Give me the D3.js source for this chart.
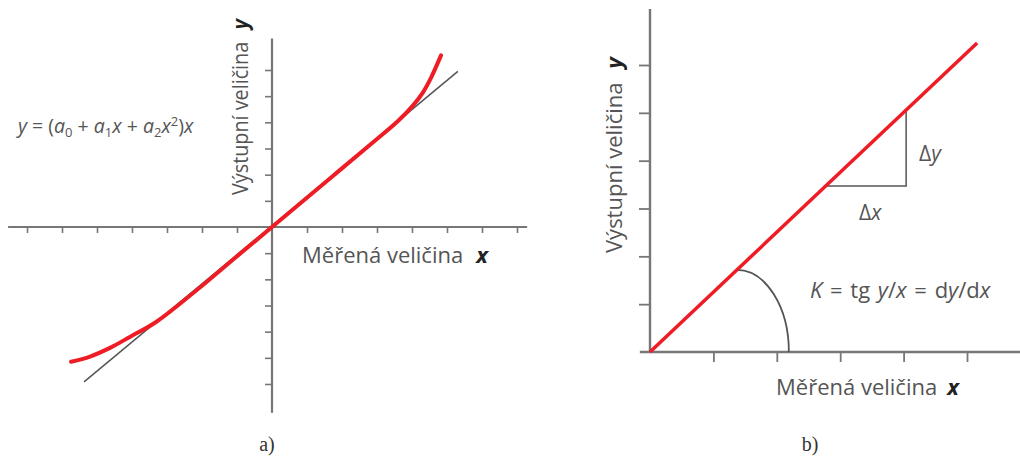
<!DOCTYPE html>
<html>
<head>
<meta charset="utf-8">
<script src="https://cdn.jsdelivr.net/npm/d3@7"></script>
<style>
  body{margin:0;background:#fff;}
  text{font-family:"Open Sans","Noto Sans",sans-serif;fill:#555;}
</style>
</head>
<body>
<div id="chart"></div>
<script>
// panel a) – nonlinear characteristic
var ticksAx=[-7,-6,-5,-4,-3,-2,-1,1,2,3,4,5,6,7];
var ticksAy=[-6,-5,-4,-3,-2,-1,1,2,3,4,5,6];
var curveAx=[-5.74,-5.2,-4.6,-4.06,-3.3,-2.06,-1.11,0,1.74,3.0,3.6,4.0,4.3,4.55,4.83];
var curveAy=[-5.15,-4.95,-4.6,-4.2,-3.62,-2.31,-1.24,0,1.95,3.36,4.05,4.6,5.12,5.72,6.56];
var lineAx=[-5.37,5.31];
var lineAy=[-5.92,5.95];
// panel b) – linear characteristic
var ticksBx=[1,2,3,4,5];
var ticksBy=[1,2,3,4,5,6];
var lineBx=[0,5.16];
var lineBy=[0,6.46];
var triBx=[2.78,4.04];   // delta x start / end
var triBy=3.47;
var arcB={cx:1.37,rx:0.82,ry:1.71};

var W=1020,H=456;
var svg=d3.select("#chart").append("svg").attr("width",W).attr("height",H);
var axisCol="#777",red="#ee1c25";

// ---------- a) ----------
var xA=d3.scaleLinear().domain([-7,7]).range([27,517]);
var yA=d3.scaleLinear().domain([-6,6]).range([384,70]);
var gA=svg.append("g");

gA.append("g").attr("transform","translate(0,"+yA(0)+")")
  .call(d3.axisBottom(xA).tickValues(ticksAx).tickSize(6).tickFormat(""))
  .call(function(g){g.select(".domain").remove();g.selectAll("line").attr("stroke",axisCol).attr("stroke-width",1.6);});
gA.append("g").attr("transform","translate("+xA(0)+",0)")
  .call(d3.axisLeft(yA).tickValues(ticksAy).tickSize(7).tickFormat(""))
  .call(function(g){g.select(".domain").remove();g.selectAll("line").attr("stroke",axisCol).attr("stroke-width",1.6);});
gA.append("line").attr("x1",xA(-7.54)).attr("x2",xA(7.29)).attr("y1",yA(0)).attr("y2",yA(0))
  .attr("stroke",axisCol).attr("stroke-width",2.2);
gA.append("line").attr("x1",xA(0)).attr("x2",xA(0)).attr("y1",yA(7.2)).attr("y2",yA(-7.1))
  .attr("stroke",axisCol).attr("stroke-width",2.2);

gA.append("path").datum(d3.zip(lineAx,lineAy))
  .attr("d",d3.line().x(function(d){return xA(d[0]);}).y(function(d){return yA(d[1]);}))
  .attr("stroke","#555").attr("stroke-width",1.5).attr("fill","none");
gA.append("path").datum(d3.zip(curveAx,curveAy))
  .attr("d",d3.line().curve(d3.curveCatmullRom.alpha(0.5)).x(function(d){return xA(d[0]);}).y(function(d){return yA(d[1]);}))
  .attr("stroke",red).attr("stroke-width",4).attr("fill","none").attr("stroke-linecap","round");

var f=gA.append("text").attr("x",18).attr("y",133).style("font-size","19.5px");
f.append("tspan").style("font-style","italic").text("y");
f.append("tspan").text(" = (");
f.append("tspan").style("font-style","italic").text("a");
f.append("tspan").attr("dy",4).style("font-size","13px").text("0");
f.append("tspan").attr("dy",-4).text(" + ");
f.append("tspan").style("font-style","italic").text("a");
f.append("tspan").attr("dy",4).style("font-size","13px").text("1");
f.append("tspan").attr("dy",-4).style("font-style","italic").text("x");
f.append("tspan").text(" + ");
f.append("tspan").style("font-style","italic").text("a");
f.append("tspan").attr("dy",4).style("font-size","13px").text("2");
f.append("tspan").attr("dy",-4).style("font-style","italic").text("x");
f.append("tspan").attr("dy",-7).style("font-size","13px").text("2");
f.append("tspan").attr("dy",7).text(")");
f.append("tspan").style("font-style","italic").text("x");

var ya=gA.append("text").attr("transform","translate(248,195) rotate(-90) scale(0.9,1)").style("font-size","22px");
ya.append("tspan").text("Výstupní veličina");
ya.append("tspan").attr("dx",14).style("font-style","italic").style("font-weight","bold").style("fill","#222").text("y");
var xa=gA.append("text").attr("x",302).attr("y",263).style("font-size","22px");
xa.append("tspan").text("Měřená veličina");
xa.append("tspan").attr("dx",13).style("font-style","italic").style("font-weight","bold").style("fill","#222").text("x");
gA.append("text").attr("x",267).attr("y",451).attr("text-anchor","middle")
  .style("font-family","'Liberation Serif','DejaVu Serif',serif").style("font-size","20px").style("fill","#333").text("a)");

// ---------- b) ----------
var xB=d3.scaleLinear().domain([0,5]).range([650,967]);
var yB=d3.scaleLinear().domain([0,6]).range([352,65]);
var gB=svg.append("g");

gB.append("g").attr("transform","translate(0,"+yB(0)+")")
  .call(d3.axisBottom(xB).tickValues(ticksBx).tickSize(10).tickFormat(""))
  .call(function(g){g.select(".domain").remove();g.selectAll("line").attr("stroke",axisCol).attr("stroke-width",1.8);});
gB.append("g").attr("transform","translate("+xB(0)+",0)")
  .call(d3.axisLeft(yB).tickValues(ticksBy).tickSize(11).tickFormat(""))
  .call(function(g){g.select(".domain").remove();g.selectAll("line").attr("stroke",axisCol).attr("stroke-width",1.8);});
gB.append("line").attr("x1",xB(-0.16)).attr("x2",xB(5.9)).attr("y1",yB(0)).attr("y2",yB(0))
  .attr("stroke",axisCol).attr("stroke-width",2.4);
gB.append("line").attr("x1",xB(0)).attr("x2",xB(0)).attr("y1",yB(7.17)).attr("y2",yB(0))
  .attr("stroke",axisCol).attr("stroke-width",2.4);

var slope=lineBy[1]/lineBx[1];
gB.append("path")
  .attr("d","M"+xB(triBx[0])+","+yB(triBy)+"H"+xB(triBx[1])+"V"+yB(triBx[1]*slope))
  .attr("stroke","#555").attr("stroke-width",1.5).attr("fill","none");
var ax0=xB(arcB.cx),ay0=yB(arcB.cx*slope),rx=xB(arcB.rx)-xB(0),ry=yB(0)-yB(arcB.ry);
gB.append("path")
  .attr("d","M"+ax0+","+ay0+"A"+rx+","+ry+" 0 0 1 "+(ax0+rx)+","+yB(0))
  .attr("stroke","#555").attr("stroke-width",1.8).attr("fill","none");
gB.append("path").datum(d3.zip(lineBx,lineBy))
  .attr("d",d3.line().x(function(d){return xB(d[0]);}).y(function(d){return yB(d[1]);}))
  .attr("stroke",red).attr("stroke-width",3.5).attr("fill","none");

var dy=gB.append("text").attr("x",919).attr("y",161).style("font-size","21px");
dy.append("tspan").text("Δ");dy.append("tspan").style("font-style","italic").text("y");
var dx=gB.append("text").attr("x",859).attr("y",220).style("font-size","21px");
dx.append("tspan").text("Δ");dx.append("tspan").style("font-style","italic").text("x");

var k=gB.append("text").attr("x",810).attr("y",298).style("font-size","22px").style("word-spacing","2px");
k.append("tspan").style("font-style","italic").text("K");
k.append("tspan").text(" = tg ");
k.append("tspan").style("font-style","italic").text("y");
k.append("tspan").text("/");
k.append("tspan").style("font-style","italic").text("x");
k.append("tspan").text(" = d");
k.append("tspan").style("font-style","italic").text("y");
k.append("tspan").text("/d");
k.append("tspan").style("font-style","italic").text("x");

var yb=gB.append("text").attr("transform","translate(622,253) rotate(-90)").style("font-size","22px");
yb.append("tspan").text("Výstupní veličina");
yb.append("tspan").attr("dx",14).style("font-style","italic").style("font-weight","bold").style("fill","#222").text("y");
var xb=gB.append("text").attr("x",776).attr("y",395).style("font-size","22px");
xb.append("tspan").text("Měřená veličina");
xb.append("tspan").attr("dx",10).style("font-style","italic").style("font-weight","bold").style("fill","#222").text("x");
gB.append("text").attr("x",810).attr("y",451).attr("text-anchor","middle")
  .style("font-family","'Liberation Serif','DejaVu Serif',serif").style("font-size","20px").style("fill","#333").text("b)");
</script>
</body>
</html>
